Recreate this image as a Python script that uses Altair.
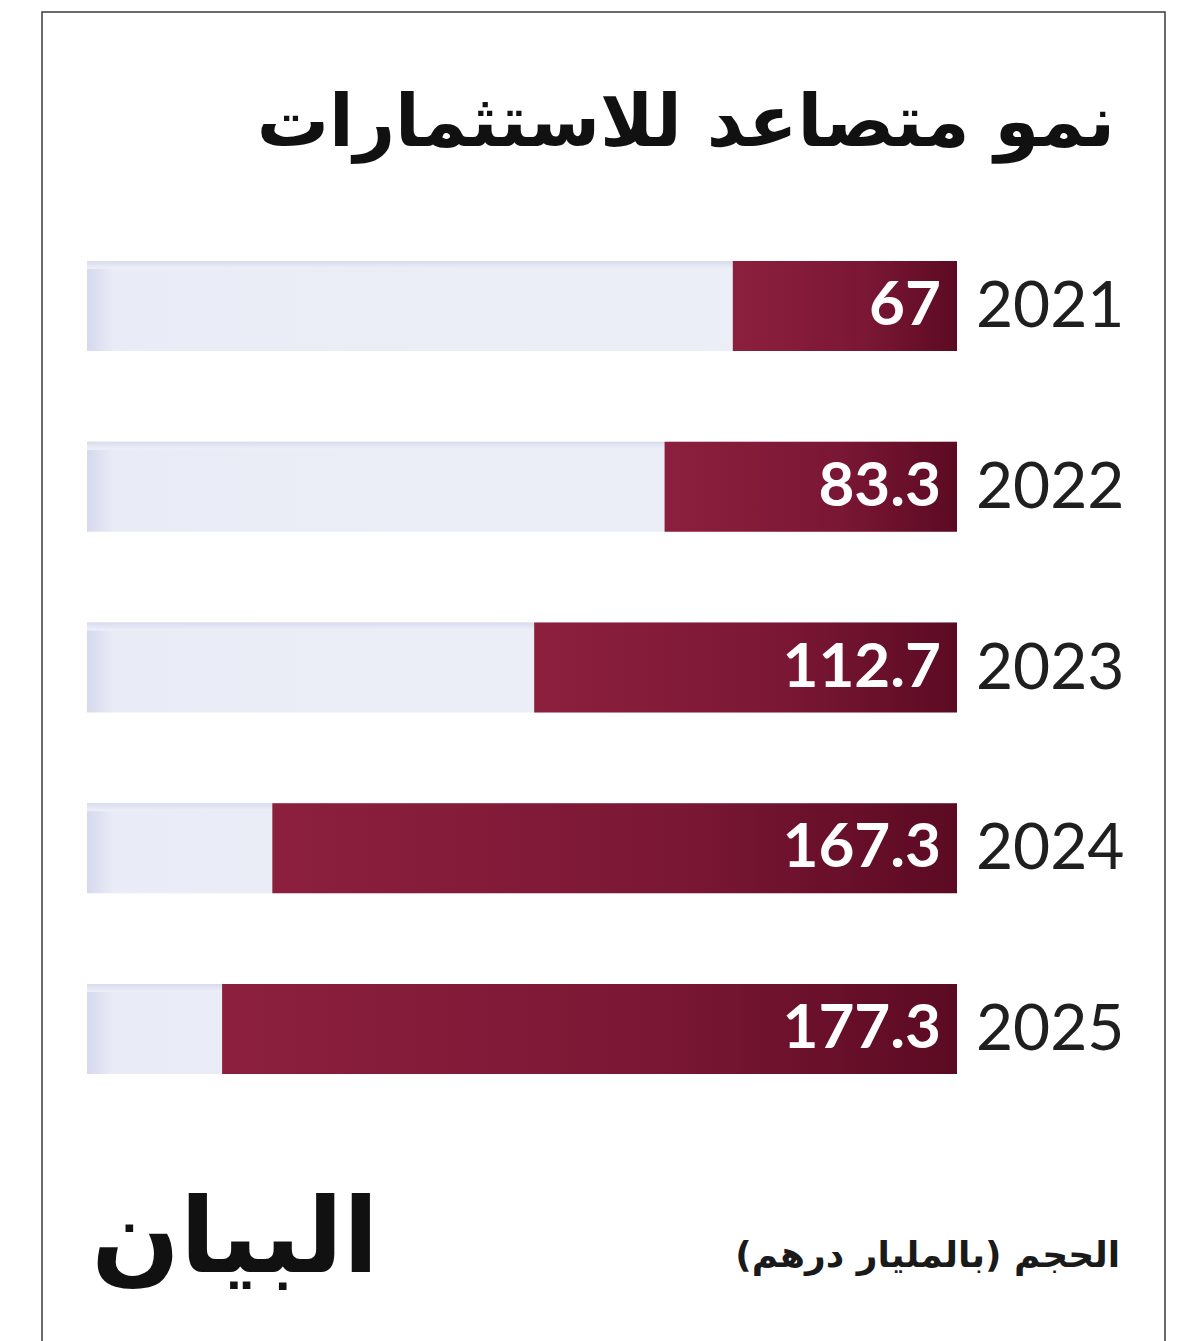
import altair as alt
import pandas as pd

years = ["2021", "2022", "2023", "2024", "2025"]
values = [67, 83.3, 112.7, 167.3, 177.3]
value_labels = ["67", "83.3", "112.7", "167.3", "177.3"]

title_text = "نمو متصاعد للاستثمارات"
unit_text = "الحجم (بالمليار درهم)"
logo_text = "البيان"

df = pd.DataFrame({"year": years, "value": values, "label": value_labels})

W, H = 1200, 1341

xscale = alt.Scale(type="pow", exponent=1.22, domain=[0, 203.6], range=[957, 87])
yscale = alt.Scale(domain=years, range=[261, 1074], paddingInner=0.502, paddingOuter=0)

base = alt.Chart(df)

bg = base.mark_bar(
    color=alt.LinearGradient(
        gradient="linear",
        stops=[
            alt.GradientStop(color="#d6d9ee", offset=0),
            alt.GradientStop(color="#e9ebf6", offset=0.03),
            alt.GradientStop(color="#eef0f8", offset=1),
        ],
        x1=0, x2=1, y1=0, y2=0,
    )
).encode(
    x=alt.value(87), x2=alt.value(957),
    y=alt.Y("year:N", scale=yscale, axis=None),
)

bg_top = base.mark_bar(
    color=alt.LinearGradient(
        gradient="linear",
        stops=[
            alt.GradientStop(color="#d8dbee", offset=0),
            alt.GradientStop(color="#eef0f8", offset=1),
        ],
        x1=0, x2=0, y1=0, y2=1,
    ),
    height=8, yOffset=-41,
).encode(
    x=alt.value(87), x2=alt.value(957),
    y=alt.Y("year:N", scale=yscale, axis=None),
)

bars = base.mark_bar(
    color=alt.LinearGradient(
        gradient="linear",
        stops=[
            alt.GradientStop(color="#8c1f3e", offset=0),
            alt.GradientStop(color="#7a1734", offset=0.6),
            alt.GradientStop(color="#5c0a23", offset=1),
        ],
        x1=0, x2=1, y1=0, y2=0,
    )
).encode(
    x=alt.X("value:Q", scale=xscale, axis=None),
    x2=alt.datum(0),
    y=alt.Y("year:N", scale=yscale, axis=None),
)

val_text = base.mark_text(
    font="Lato", fontWeight="bold", fontSize=62, color="white",
    align="right", baseline="alphabetic", dx=-16, dy=19,
).encode(
    x=alt.X("zero:Q", scale=xscale, axis=None),
    y=alt.Y("year:N", scale=yscale, axis=None),
    text="label:N",
).transform_calculate(zero="0")

year_text = base.mark_text(
    font="Lato", fontSize=64, color="#1f1f1f",
    align="left", baseline="alphabetic", dx=19, dy=21,
).encode(
    x=alt.X("zero:Q", scale=xscale, axis=None),
    y=alt.Y("year:N", scale=yscale, axis=None),
    text="year:N",
).transform_calculate(zero="0")

title = alt.Chart(pd.DataFrame({"t": [title_text]})).mark_text(
    font="DejaVu Sans", fontWeight="bold", fontSize=72, color="#111111",
    align="right", baseline="alphabetic",
).encode(x=alt.value(1115), y=alt.value(146), text="t:N")

unit = alt.Chart(pd.DataFrame({"t": [unit_text]})).mark_text(
    font="DejaVu Sans", fontWeight="bold", fontSize=36, color="#1a1a1a",
    align="right", baseline="alphabetic",
).encode(x=alt.value(1120), y=alt.value(1267), text="t:N")

logo = alt.Chart(pd.DataFrame({"t": [logo_text]})).mark_text(
    font="DejaVu Sans", fontWeight="bold", fontSize=104, color="#111111",
    align="center", baseline="alphabetic",
).encode(x=alt.value(235), y=alt.value(1272), text="t:N")

frame = alt.Chart(pd.DataFrame({"a": [0]})).mark_rect(
    fill="white", fillOpacity=0, stroke="#3a3a3a", strokeWidth=1.5,
).encode(x=alt.value(42), x2=alt.value(1165), y=alt.value(12), y2=alt.value(1400))

chart = alt.layer(frame, bg, bg_top, bars, val_text, year_text, title, unit, logo).properties(
    width=W, height=H,
    autosize=alt.AutoSizeParams(type="none"),
    padding=0,
    background="white",
).configure_view(stroke=None)

chart.save("out.html", embed_options={"renderer": "svg", "actions": False})
